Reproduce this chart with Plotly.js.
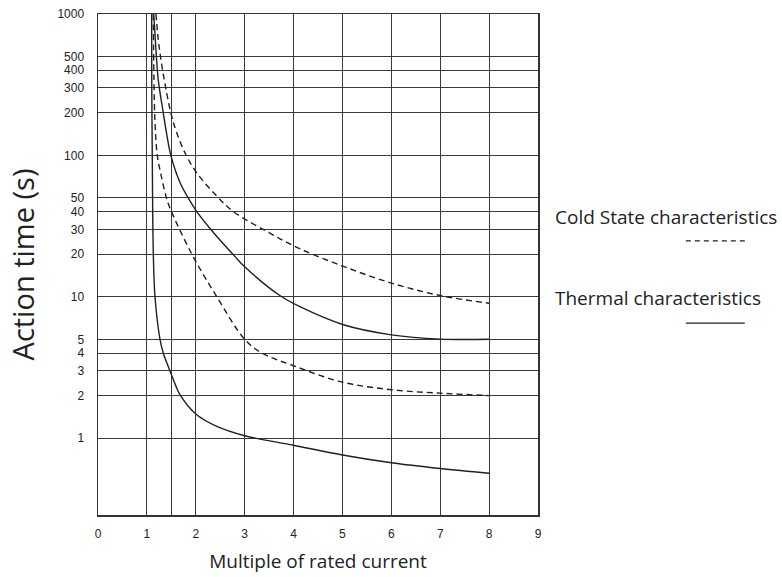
<!DOCTYPE html>
<html>
<head>
<meta charset="utf-8">
<script src="https://cdn.plot.ly/plotly-3.0.1.min.js"></script>
<style>html,body{margin:0;padding:0;background:#fff;}#chart{width:782px;height:577px;}</style>
</head>
<body>
<div id="chart"></div>
<script>
// Thermal characteristics (solid) - lower curve
var thermalLowX = [1.097, 1.10, 1.11, 1.13, 1.166, 1.268, 1.335, 1.47, 1.58, 1.68, 2.0, 2.43, 3.0, 4.0, 5.0, 6.0, 7.0, 8.0];
var thermalLowY = [1000, 300, 100, 21.5, 10, 5, 4, 3, 2.4, 2.02, 1.48, 1.21, 1.04, 0.89, 0.76, 0.67, 0.61, 0.565];
// Cold state characteristics (dashed) - lower curve
var coldLowX = [1.13, 1.145, 1.166, 1.213, 1.30, 1.40, 1.49, 1.92, 2.43, 3.0, 3.35, 4.0, 5.0, 6.0, 7.0, 8.0];
var coldLowY = [1000, 343, 170, 100, 70, 50, 41, 20, 10, 5.0, 4.0, 3.25, 2.49, 2.2, 2.08, 2.0];
// Thermal characteristics (solid) - upper curve
var thermalHighX = [1.14, 1.18, 1.232, 1.335, 1.40, 1.49, 1.68, 1.86, 2.02, 2.36, 2.8, 3.0, 3.72, 4.13, 5.02, 6.0, 7.0, 8.0];
var thermalHighY = [1000, 600, 343, 200, 145, 100, 64, 49, 40, 28.5, 19.3, 16.3, 10.2, 8.5, 6.34, 5.38, 5.02, 5.0];
// Cold state characteristics (dashed) - upper curve
var coldHighX = [1.186, 1.247, 1.355, 1.49, 1.60, 1.78, 2.01, 2.43, 2.77, 3.45, 4.1, 5.02, 6.0, 7.0, 8.0];
var coldHighY = [1000, 600, 343, 200, 148, 104, 76, 51.5, 40, 29, 22.1, 16.4, 12.5, 10.2, 9.0];

var xTickVals = [0, 1, 1.5, 2, 3, 4, 5, 6, 7, 8, 9];
var xTickText = ['0', '1', '', '2', '3', '4', '5', '6', '7', '8', '9'];
var yTickVals = [1, 2, 3, 4, 5, 10, 20, 30, 40, 50, 100, 200, 300, 400, 500, 1000];
var yTickText = ['1', '2', '3', '4', '5', '10', '20', '30', '40', '50', '100', '200', '300', '400', '500', '1000'];

var legendCold = 'Cold State characteristics';
var legendThermal = 'Thermal characteristics';
var xTitle = 'Multiple of rated current';
var yTitle = 'Action time (s)';

var curveColor = '#231f20';
function curve(x, y, dash) {
  return {
    x: x, y: y, type: 'scatter', mode: 'lines',
    line: {color: curveColor, width: 1.4, dash: dash, shape: 'spline', smoothing: 1},
    hoverinfo: 'skip', showlegend: false
  };
}

var data = [
  curve(thermalLowX, thermalLowY, 'solid'),
  curve(coldLowX, coldLowY, '6px,4px'),
  curve(thermalHighX, thermalHighY, 'solid'),
  curve(coldHighX, coldHighY, '6px,4px')
];

var tickFont = {family: 'Liberation Sans, DejaVu Sans, sans-serif', size: 12, color: '#222'};
var textFont = {family: 'Open Sans, Noto Sans, sans-serif', size: 19, color: '#222'};

var layout = {
  width: 782, height: 577,
  margin: {l: 98, r: 244, t: 14, b: 62, pad: 0},
  paper_bgcolor: '#fff', plot_bgcolor: '#fff',
  showlegend: false,
  xaxis: {
    range: [0, 9], tickmode: 'array', tickvals: xTickVals, ticktext: xTickText,
    showgrid: true, gridcolor: '#3a3a3a', gridwidth: 1,
    zeroline: false, showline: true, mirror: true, linecolor: '#333', linewidth: 1.5,
    ticks: '', ticklabelstandoff: 7, tickfont: tickFont,
    title: {text: xTitle, font: {family: 'Open Sans, Noto Sans, sans-serif', size: 19, color: '#222'}, standoff: 15}
  },
  yaxis: {
    type: 'log', range: [Math.log10(0.286), 3], tickmode: 'array', tickvals: yTickVals, ticktext: yTickText,
    showgrid: true, gridcolor: '#3a3a3a', gridwidth: 1,
    zeroline: false, showline: true, mirror: true, linecolor: '#333', linewidth: 1.5,
    ticks: '', ticklabelstandoff: 10, tickfont: tickFont,
    title: {text: yTitle, font: {family: 'Open Sans, Noto Sans, sans-serif', size: 29, color: '#222'}, standoff: 14}
  },
  annotations: [
    {xref: 'paper', yref: 'paper', x: 1.034, y: 0.595, xanchor: 'left', yanchor: 'middle',
     text: legendCold, showarrow: false, font: textFont},
    {xref: 'paper', yref: 'paper', x: 1.034, y: 0.433, xanchor: 'left', yanchor: 'middle',
     text: legendThermal, showarrow: false, font: textFont}
  ],
  shapes: [
    {type: 'line', xref: 'paper', yref: 'paper', x0: 1.336, x1: 1.47, y0: 0.547, y1: 0.547,
     line: {color: curveColor, width: 1.2, dash: '5px,4px'}},
    {type: 'line', xref: 'paper', yref: 'paper', x0: 1.336, x1: 1.47, y0: 0.383, y1: 0.383,
     line: {color: curveColor, width: 1.2}}
  ]
};

Plotly.newPlot('chart', data, layout, {displayModeBar: false, staticPlot: true});
</script>
</body>
</html>
